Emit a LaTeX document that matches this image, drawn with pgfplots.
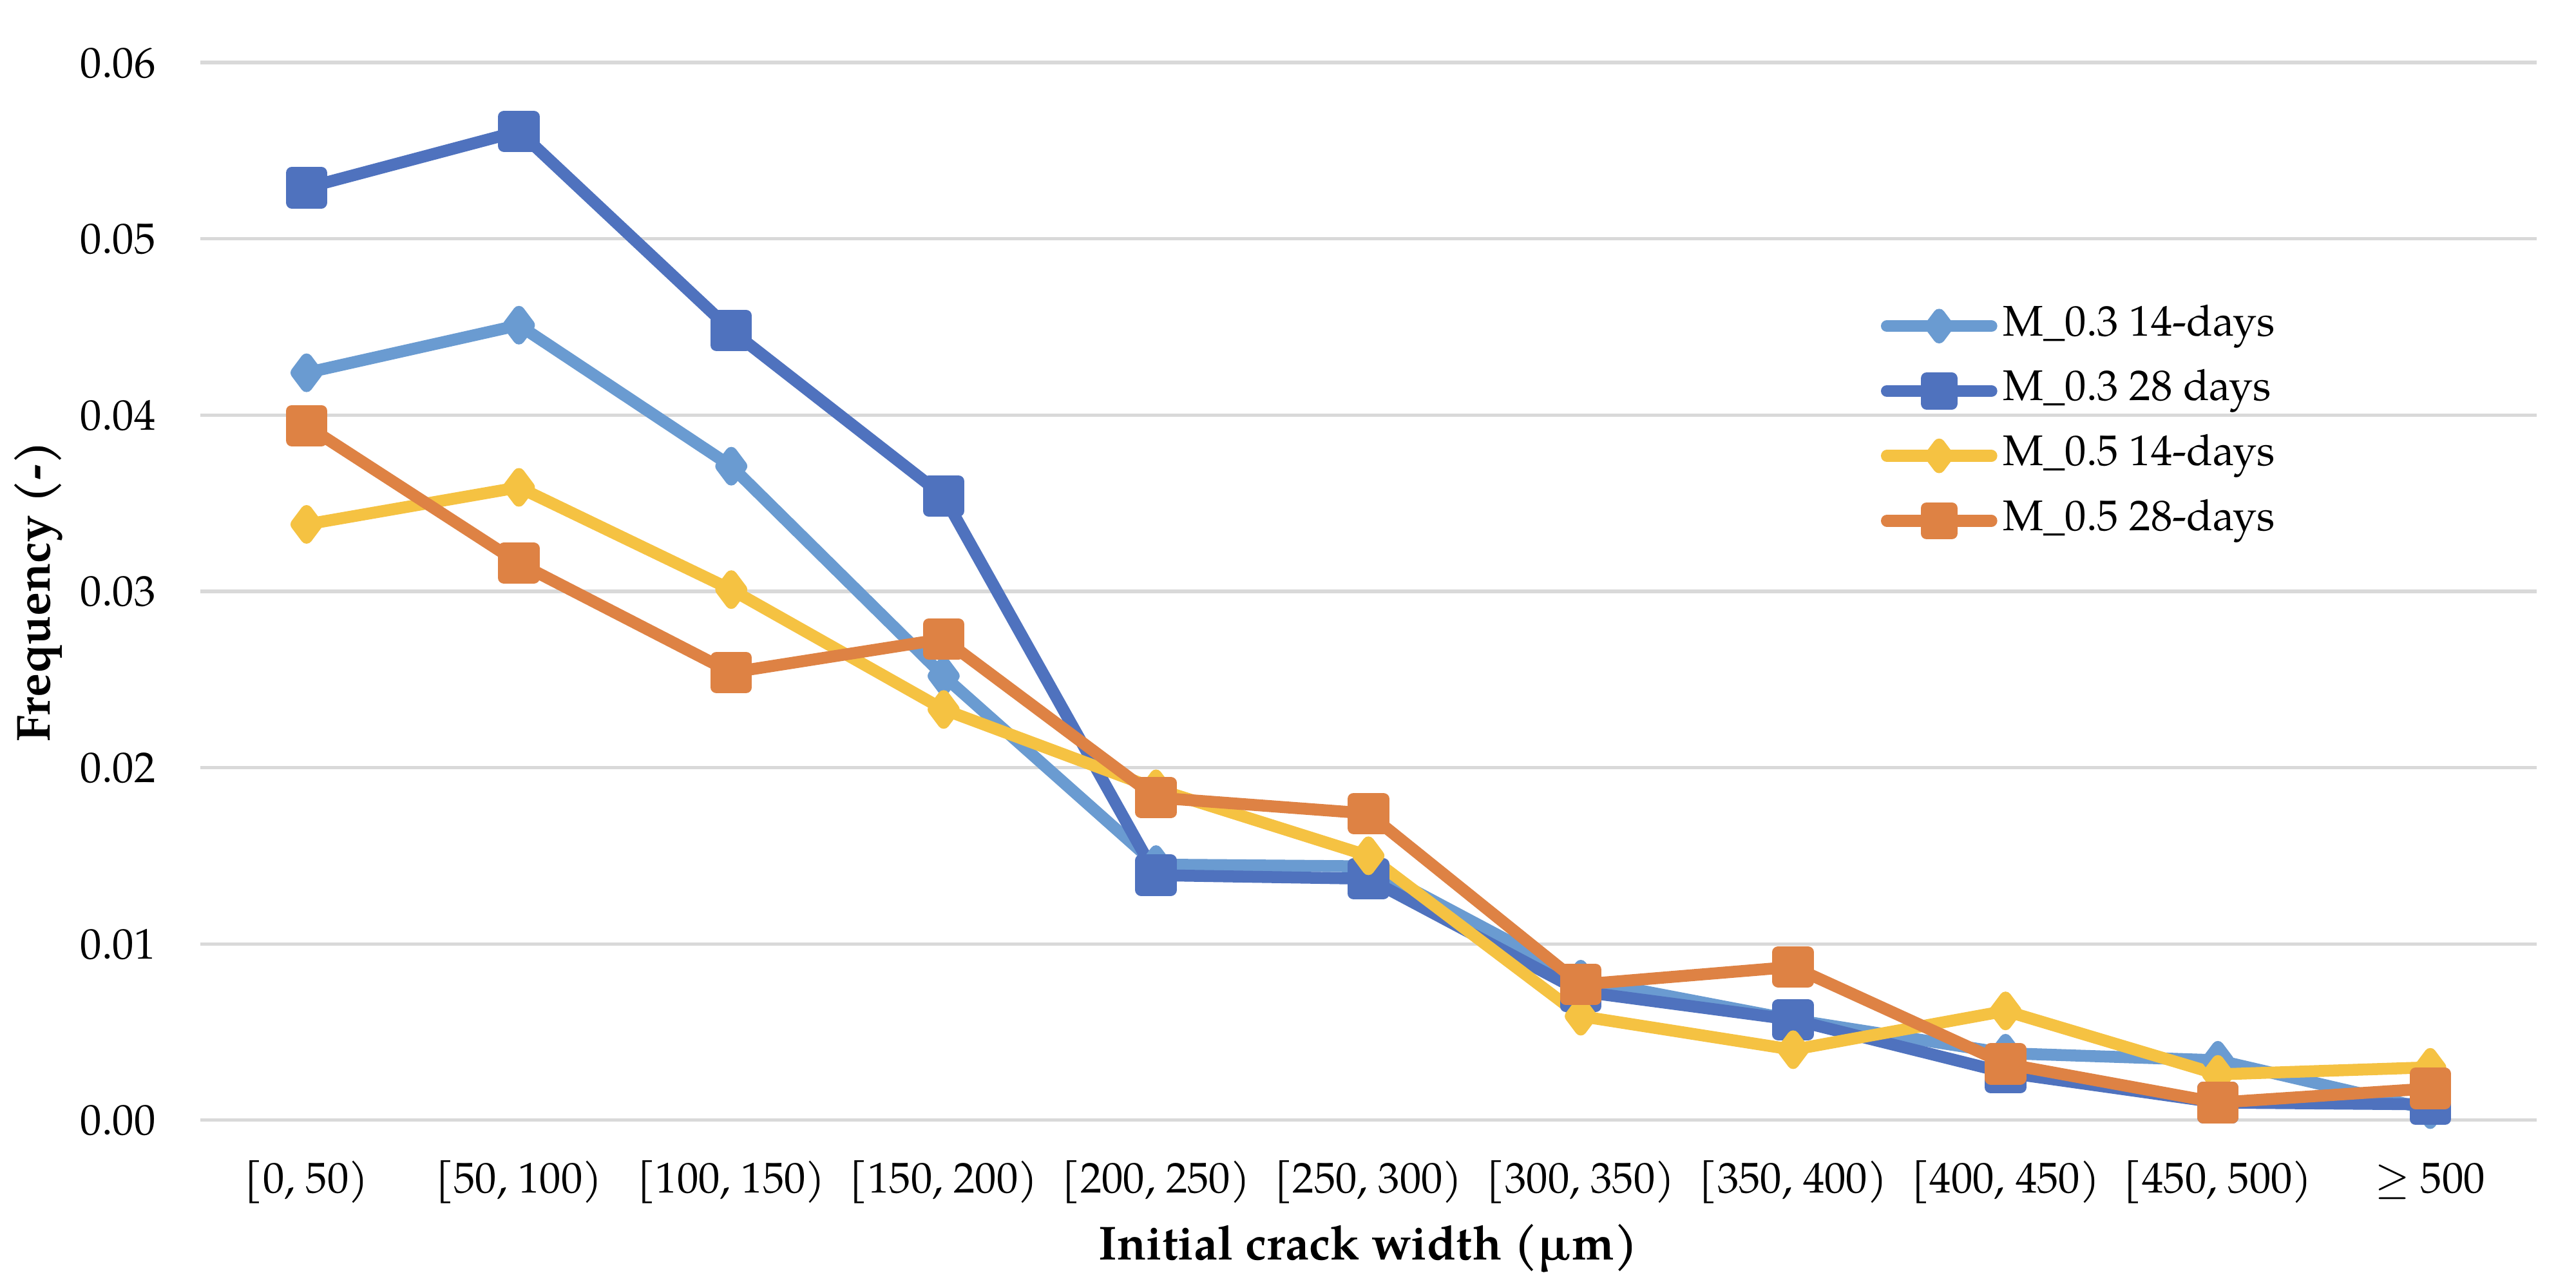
\documentclass[border=0pt]{standalone}
\usepackage{fontspec}
\setmainfont{TeX Gyre Pagella}
\usepackage{pgfplots}
\pgfplotsset{compat=1.18}
\definecolor{lblue}{HTML}{6A9BD1}
\definecolor{dblue}{HTML}{4F72BE}
\definecolor{myellow}{HTML}{F5C242}
\definecolor{morange}{HTML}{DE8244}
\definecolor{gridgray}{HTML}{D9D9D9}
\begin{document}
\begin{tikzpicture}[font=\fontsize{9}{10.8}\selectfont]
\useasboundingbox (-42pt,-33.8pt) rectangle (498pt,234.8pt);
\begin{axis}[
    scale only axis,
    width=489.7pt, height=221.7pt,
    at={(0pt,0pt)}, anchor=south west,
    xmin=-0.5, xmax=10.5,
    ymin=0, ymax=0.06,
    xtick={0,1,2,3,4,5,6,7,8,9,10},
    xticklabels={{[0, 50)},{[50, 100)},{[100, 150)},{[150, 200)},{[200, 250)},{[250, 300)},{[300, 350)},{[350, 400)},{[400, 450)},{[450, 500)},{$\geq$ 500}},
    ytick={0,0.01,0.02,0.03,0.04,0.05,0.06},
    scaled y ticks=false,
    axis line style={draw=none},
    major tick length=0pt,
    ymajorgrids,
    grid style={gridgray, line width=0.7pt},
    /pgf/number format/fixed,
    /pgf/number format/fixed zerofill,
    /pgf/number format/precision=2,
    /pgf/number format/assume math mode=true,
    yticklabel style={anchor=east, inner sep=0pt, xshift=-9.2pt, text height=6.2pt, text depth=0pt},
    xticklabel style={anchor=center, inner sep=0pt, yshift=-12.9pt, text height=6.5pt, text depth=2pt},
    every axis x label/.style={at={(axis description cs:0.5,-0.1218)}, anchor=center, font=\bfseries, text height=6.5pt, text depth=2pt},
    every axis y label/.style={at={(axis description cs:-0.0692,0.5)}, rotate=90, anchor=center, font=\bfseries},
    xlabel={Initial crack width (µm)},
    ylabel={Frequency (-)},
    clip=false,
    legend cell align=left,
    legend style={draw=none, fill=none, at={(axis description cs:0.719,0.772)}, anchor=north west,
        inner sep=0pt, row sep=4.6pt, column sep=1.2pt,
        nodes={inner sep=0pt, text height=6.5pt, text depth=2.5pt}},
    legend image code/.code={
        \draw[#1, mark=none, line cap=round] (1.25pt,0pt) -- (23.15pt,0pt);
        \draw[#1, only marks, mark options={scale=0.85}] plot coordinates {(12.2pt,0pt)};
    },
    every axis plot/.append style={line width=2.5pt, line join=round},
]
\addplot[lblue, mark=diamond*, mark size=2.8pt, mark options={draw=none, fill=lblue}] coordinates {
    (0,0.0424) (1,0.0451) (2,0.0371) (3,0.0252) (4,0.0145) (5,0.0144)
    (6,0.0080) (7,0.0057) (8,0.0038) (9,0.0034) (10,0.0006)
};
\addlegendentry{M\_0.3 14-days}
\addplot[dblue, mark=square*, mark size=3.1pt, mark options={draw=none, fill=dblue}] coordinates {
    (0,0.0529) (1,0.0561) (2,0.0448) (3,0.0354) (4,0.0139) (5,0.0137)
    (6,0.0073) (7,0.0057) (8,0.0027) (9,0.0010) (10,0.0009)
};
\addlegendentry{M\_0.3 28 days}
\addplot[myellow, mark=diamond*, mark size=2.8pt, mark options={draw=none, fill=myellow}] coordinates {
    (0,0.0338) (1,0.0359) (2,0.0301) (3,0.0233) (4,0.0188) (5,0.0150)
    (6,0.0059) (7,0.0040) (8,0.0062) (9,0.0026) (10,0.0030)
};
\addlegendentry{M\_0.5 14-days}
\addplot[morange, mark=square*, mark size=3.1pt, mark options={draw=none, fill=morange}] coordinates {
    (0,0.0394) (1,0.0316) (2,0.0254) (3,0.0273) (4,0.0183) (5,0.0174)
    (6,0.0077) (7,0.0087) (8,0.0032) (9,0.0010) (10,0.0018)
};
\addlegendentry{M\_0.5 28-days}
\end{axis}
\end{tikzpicture}
\end{document}
